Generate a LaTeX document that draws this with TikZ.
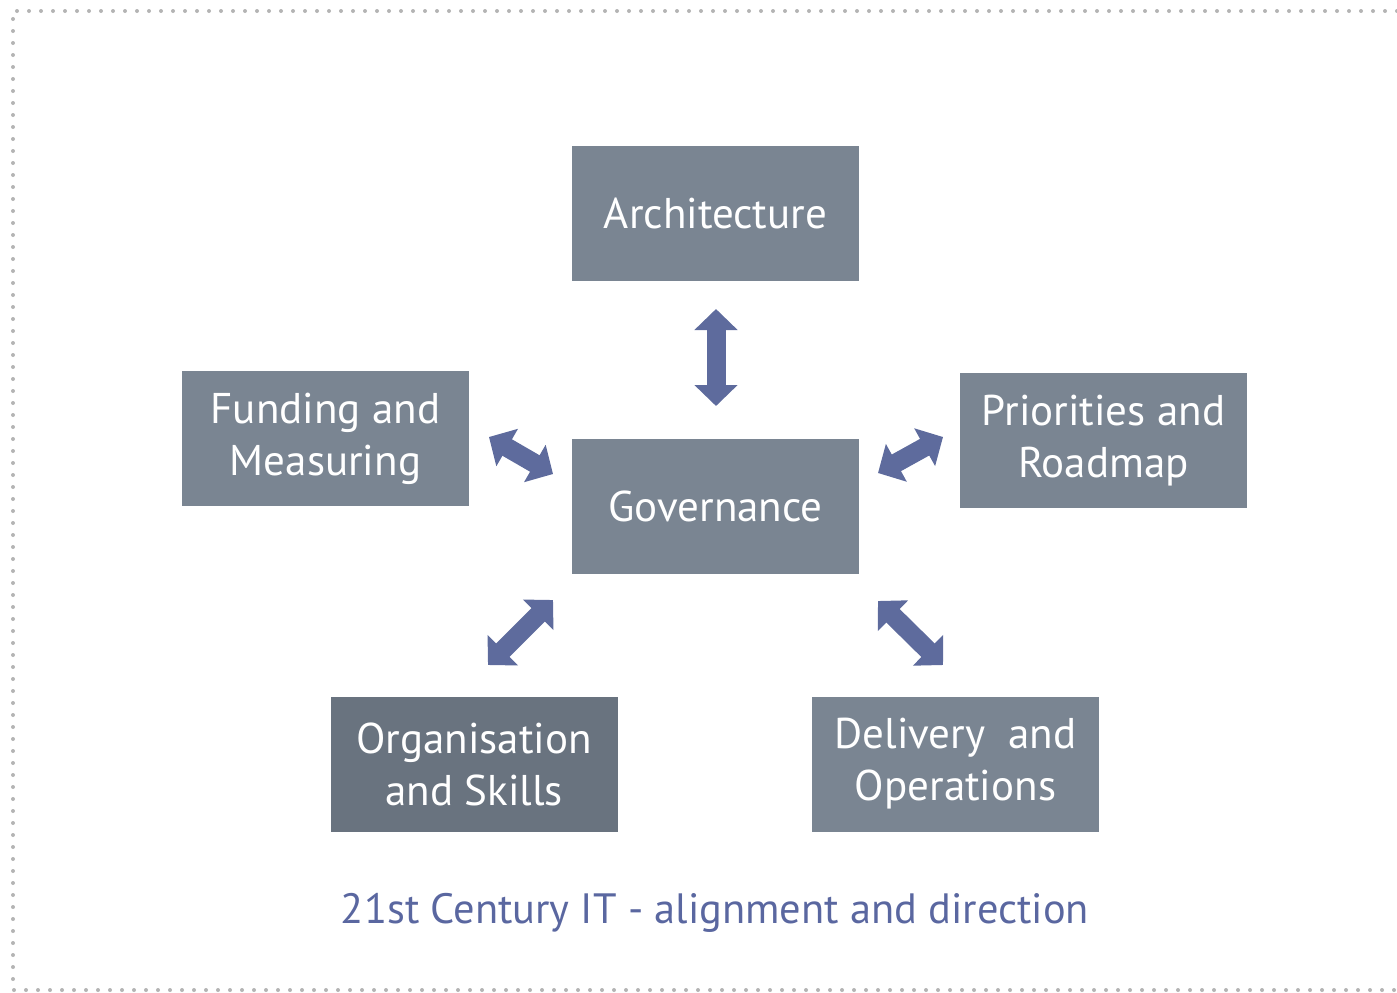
\documentclass[tikz,border=0pt]{standalone}
\usepackage{fontspec}
\setmainfont{PT Sans}
\usetikzlibrary{arrows.meta}
\definecolor{boxc}{HTML}{7A8592}
\definecolor{boxd}{HTML}{69737F}
\definecolor{arrc}{HTML}{5E6B9D}
\definecolor{capc}{HTML}{5A67A0}
\definecolor{dotc}{HTML}{B4B4B4}
\tikzset{
  box/.style={fill=#1, text=white, minimum width=143.5pt, minimum height=67.5pt,
    inner sep=0pt, align=center, font=\fontsize{21.5}{26}\selectfont},
  box/.default=boxc,
  dbl/.style={draw=arrc, line width=9.5pt,
    {Triangle[width=21pt,length=10.5pt]}-{Triangle[width=21pt,length=10.5pt]}},
  border/.style={draw=dotc, line width=2pt, line cap=round, dash pattern=on 0pt off 6pt}
}
\begin{document}
\begin{tikzpicture}[x=0.5pt,y=-0.5pt]
\useasboundingbox (0,0) rectangle (1397,992);
\draw[border] (1397,11) -- (13,11) -- (13,990) -- (1397,990);
\node[box] (arch) at (715.5,213.5) {Architecture};
\node[box] (gov) at (715.5,506.5) {Governance};
\node[box] (fund) at (325.5,438.5) {Funding and\\Measuring};
\node[box] (prio) at (1103.5,440.5) {Priorities and\\Roadmap};
\node[box=boxd] (org) at (474,764) {Organisation\\and Skills};
\node[box] (deliv) at (955.5,764) {Delivery~ and\\Operations};
\node[text=capc, font=\fontsize{21.2}{26}\selectfont] (cap) at (715,913) {21st Century IT - alignment and direction};
\coordinate (a1) at (716,309);
\coordinate (a2) at (716,406);
\coordinate (b1) at (489,437);
\coordinate (b2) at (553,474);
\coordinate (c1) at (878,473);
\coordinate (c2) at (943,437);
\coordinate (d1) at (488,665);
\coordinate (d2) at (553,600);
\coordinate (e1) at (878,601);
\coordinate (e2) at (943,665);
\draw[dbl] (a1) -- (a2);
\draw[dbl] (b1) -- (b2);
\draw[dbl] (c1) -- (c2);
\draw[dbl] (d1) -- (d2);
\draw[dbl] (e1) -- (e2);
\end{tikzpicture}
\end{document}
